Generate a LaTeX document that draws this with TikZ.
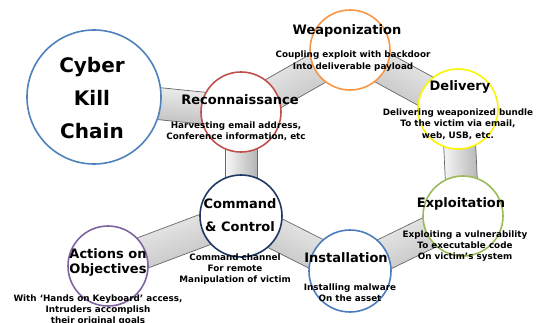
\documentclass[tikz,border=0pt]{standalone}
\usepackage{fontspec}
\setmainfont{DejaVu Sans}
\usetikzlibrary{calc,backgrounds}
\definecolor{ckcblue}{RGB}{79,129,189}
\definecolor{reconred}{RGB}{192,80,77}
\definecolor{weaporange}{RGB}{247,150,70}
\definecolor{delivyellow}{RGB}{250,245,0}
\definecolor{exploitgreen}{RGB}{155,187,89}
\definecolor{installblue}{RGB}{75,125,190}
\definecolor{cncnavy}{RGB}{31,56,100}
\definecolor{actpurple}{RGB}{128,100,162}

% grey band between two stages: #1, #2 node names, #3 shading angle
\newcommand\linkbar[3]{%
  \path[bar,shading angle=#3] ($(#1)!16pt!90:(#2)$) -- ($(#2)!16pt!-90:(#1)$)
    -- ($(#2)!16pt!90:(#1)$) -- ($(#1)!16pt!-90:(#2)$) -- cycle;}

\begin{document}
\begin{tikzpicture}[x=1pt,y=1pt]
\tikzstyle{stage}=[circle,fill=white,line width=1.6pt,inner sep=0pt,minimum size=80pt]
\tikzstyle{title}=[font=\fontsize{13}{15}\selectfont\bfseries,align=center,inner sep=0pt]
\tikzstyle{desc}=[font=\fontsize{8.8}{11.3}\selectfont\bfseries,align=center,inner sep=0pt]
\tikzstyle{bar}=[draw=black!60,line width=.7pt,top color=gray!5,bottom color=gray!58]
\useasboundingbox (0,0) rectangle (537,322);
\clip (0,0) rectangle (537,322);
% stages
\node[stage,draw=ckcblue,minimum size=134pt] (ckc) at (94,225) {};
\node[stage,draw=reconred] (recon) at (241,210) {};
\node[stage,draw=weaporange] (weap) at (350,272) {};
\node[stage,draw=delivyellow] (deliv) at (458,213) {};
\node[stage,draw=exploitgreen] (exploit) at (463,106) {};
\node[stage,draw=installblue,minimum size=82pt] (install) at (350,51) {};
\node[stage,draw=cncnavy,minimum size=82pt] (cnc) at (241,106) {};
\node[stage,draw=actpurple] (act) at (108,56) {};
% links behind the circles
\begin{scope}[on background layer]
\linkbar{ckc}{recon}{-6}
\linkbar{recon}{weap}{30}
\linkbar{weap}{deliv}{-29}
\linkbar{deliv}{exploit}{90}
\linkbar{install}{exploit}{26}
\linkbar{cnc}{install}{-27}
\linkbar{recon}{cnc}{90}
\linkbar{act}{cnc}{21}
\end{scope}
% labels
\node[font=\fontsize{20}{33}\selectfont\bfseries,align=center,inner sep=0pt] (ckc-t) at (92,224) {Cyber\\Kill\\Chain};
\node[title] (recon-t) at (240,222) {Reconnaissance};
\node[desc] (recon-d) at (236,191) {Harvesting email address,\\Conference information, etc};
\node[title] (weap-t) at (347,291) {Weaponization};
\node[desc] (weap-d) at (353,261) {Coupling exploit with backdoor\\Into deliverable payload};
\node[title] (deliv-t) at (460,235) {Delivery};
\node[desc] (deliv-d) at (458,198) {Delivering weaponized bundle\\To the victim via email,\\web, USB, etc.};
\node[title] (exploit-t) at (461,118) {Exploitation};
\node[desc] (exploit-d) at (465,76) {Exploiting a vulnerability\\To executable code\\On victim’s system};
\node[title] (install-t) at (346,64) {Installation};
\node[desc] (install-d) at (350,29.5) {Installing malware\\On the asset};
\node[title,font=\fontsize{13}{23}\selectfont\bfseries] (cnc-t) at (240,107) {Command\\\& Control};
\node[desc] (cnc-d) at (235,53) {Command channel\\For remote\\Manipulation of victim};
\node[title] (act-t) at (108,60) {Actions on\\Objectives};
\node[desc] (act-d) at (98,12) {With ‘Hands on Keyboard’ access,\\Intruders accomplish\\their original goals};
\end{tikzpicture}
\end{document}
